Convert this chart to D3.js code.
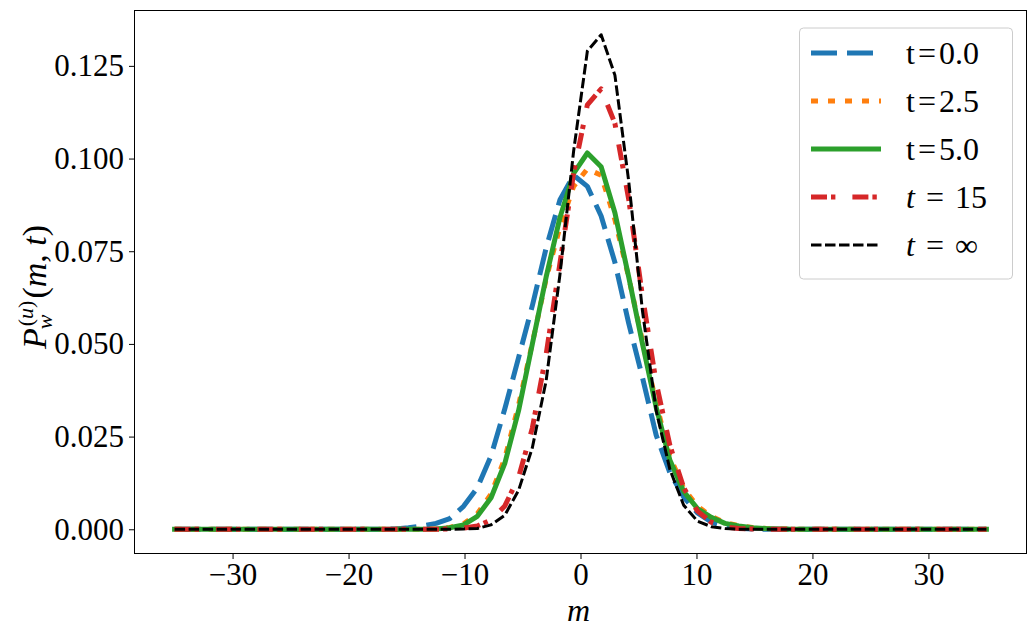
<!DOCTYPE html>
<html>
<head>
<meta charset="utf-8">
<script src="https://cdn.jsdelivr.net/npm/d3@7"></script>
<style>
  body { margin: 0; background: #fff; }
  text { font-family: 'Liberation Serif', 'DejaVu Serif', serif; }
</style>
</head>
<body>
<svg id="chart" width="1036" height="632"></svg>
<script>
// ---------------- data ----------------
const mValues = [
  -35.000, -33.814, -32.627, -31.441, -30.254, -29.068, -27.881, -26.695, -25.508, -24.322,
  -23.136, -21.949, -20.763, -19.576, -18.390, -17.203, -16.017, -14.831, -13.644, -12.458,
  -11.271, -10.085, -8.898, -7.712, -6.525, -5.339, -4.153, -2.966, -1.780, -0.593,
  0.593, 1.780, 2.966, 4.153, 5.339, 6.525, 7.712, 8.898, 10.085, 11.271,
  12.458, 13.644, 14.831, 16.017, 17.203, 18.390, 19.576, 20.763, 21.949, 23.136,
  24.322, 25.508, 26.695, 27.881, 29.068, 30.254, 31.441, 32.627, 33.814, 35.000
];

const p_t0 = [
  0, 0, 0, 0, 0, 0, 0, 0, 0, 0,
  0, 0, 0, 0, 0, 0, 0.0001, 0.0004, 0.0009, 0.0016,
  0.0029, 0.0062, 0.0112, 0.0198, 0.0325, 0.0463, 0.0603, 0.0758, 0.0888, 0.0955,
  0.0925, 0.0845, 0.0720, 0.0556, 0.0410, 0.0254, 0.0152, 0.0087, 0.0044, 0.0020,
  0.0008, 0.0003, 0.0001, 0, 0, 0, 0, 0, 0, 0,
  0, 0, 0, 0, 0, 0, 0, 0, 0, 0
];

const p_t25 = [
  0, 0, 0, 0, 0, 0, 0, 0, 0, 0,
  0, 0, 0, 0, 0, 0, 0, 0, 0, 0.0001,
  0.0005, 0.0015, 0.0042, 0.0095, 0.0192, 0.0335, 0.0502, 0.0675, 0.0815, 0.0925,
  0.0972, 0.0955, 0.0835, 0.0680, 0.0508, 0.0340, 0.0196, 0.0110, 0.0062, 0.0035,
  0.0018, 0.0010, 0.0005, 0.0002, 0.0001, 0, 0, 0, 0, 0,
  0, 0, 0, 0, 0, 0, 0, 0, 0, 0
];

const p_t5 = [
  0, 0, 0, 0, 0, 0, 0, 0, 0, 0,
  0, 0, 0, 0, 0, 0, 0, 0, 0, 0.0001,
  0.0004, 0.0012, 0.0035, 0.0085, 0.0178, 0.0320, 0.0500, 0.0680, 0.0840, 0.0960,
  0.1015, 0.0978, 0.0854, 0.0681, 0.0501, 0.0329, 0.0186, 0.0102, 0.0056, 0.0032,
  0.0016, 0.0009, 0.0004, 0.0002, 0.0001, 0, 0, 0, 0, 0,
  0, 0, 0, 0, 0, 0, 0, 0, 0, 0
];

const p_t15 = [
  0, 0, 0, 0, 0, 0, 0, 0, 0, 0,
  0, 0, 0, 0, 0, 0, 0, 0, 0, 0,
  0.0001, 0.0003, 0.0009, 0.0025, 0.0063, 0.0140, 0.0273, 0.0471, 0.0716, 0.0961,
  0.1145, 0.1188, 0.1095, 0.0891, 0.0630, 0.0395, 0.0226, 0.0112, 0.0049, 0.0019,
  0.0006, 0.0002, 0.0001, 0, 0, 0, 0, 0, 0, 0,
  0, 0, 0, 0, 0, 0, 0, 0, 0, 0
];

const p_tinf = [
  0, 0, 0, 0, 0, 0, 0, 0, 0, 0,
  0, 0, 0, 0, 0, 0, 0, 0, 0, 0,
  0, 0.0001, 0.0002, 0.0012, 0.0038, 0.0105, 0.0220, 0.0400, 0.0685, 0.1020,
  0.1290, 0.1334, 0.1225, 0.0940, 0.0590, 0.0320, 0.0161, 0.0065, 0.0022, 0.0007,
  0.0002, 0, 0, 0, 0, 0, 0, 0, 0, 0,
  0, 0, 0, 0, 0, 0, 0, 0, 0, 0
];

const xTicks = [-30, -20, -10, 0, 10, 20, 30];
const yTicks = [0, 0.025, 0.050, 0.075, 0.100, 0.125];

// legend label pieces: [text, italic, dx before]
const legendLabels = [
  [["t", false, 0], ["=", false, 3], ["0.0", false, 3]],
  [["t", false, 0], ["=", false, 3], ["2.5", false, 3]],
  [["t", false, 0], ["=", false, 3], ["5.0", false, 3]],
  [["t", true, 0], ["=", false, 11], ["15", false, 11]],
  [["t", true, 0], ["=", false, 11], ["\u221E", false, 11]]
];

// ---------------- styles ----------------
const seriesList = [
  { values: p_t0,   color: "#1f77b4", width: 5, dash: "26 10" },
  { values: p_t25,  color: "#ff7f0e", width: 5, dash: "7 10" },
  { values: p_t5,   color: "#2ca02c", width: 5, dash: null },
  { values: p_t15,  color: "#d62728", width: 5, dash: "16 4 4.4 17" },
  { values: p_tinf, color: "#000000", width: 3, dash: "10.5 3.5" }
];

const W = 1036, H = 632;
const plot = { left: 134, right: 1027, top: 10, bottom: 554 };
const FS = 31;

const svg = d3.select("#chart");
svg.append("rect").attr("width", W).attr("height", H).attr("fill", "#fff");

// scales with matplotlib-like 5% margins
const xMin = d3.min(mValues), xMax = d3.max(mValues);
const xPad = (xMax - xMin) * 0.05;
const allY = seriesList.flatMap(s => s.values);
const yMin = d3.min(allY), yMax = d3.max(allY);
const yPad = (yMax - yMin) * 0.05;

const x = d3.scaleLinear().domain([xMin - xPad, xMax + xPad]).range([plot.left, plot.right]);
const y = d3.scaleLinear().domain([yMin - yPad, yMax + yPad]).range([plot.bottom, plot.top]);

// clip
svg.append("defs").append("clipPath").attr("id", "clip")
  .append("rect").attr("x", plot.left).attr("y", plot.top)
  .attr("width", plot.right - plot.left).attr("height", plot.bottom - plot.top);

// lines
const line = d3.line().x((d, i) => x(mValues[i])).y(d => y(d));
const gLines = svg.append("g").attr("clip-path", "url(#clip)");
seriesList.forEach(s => {
  gLines.append("path")
    .datum(s.values)
    .attr("d", line)
    .attr("fill", "none")
    .attr("stroke", s.color)
    .attr("stroke-width", s.width)
    .attr("stroke-dasharray", s.dash)
    .attr("stroke-linejoin", "round")
    .attr("stroke-linecap", s.dash ? "butt" : "square");
});

// axes
const fmtX = d => d < 0 ? "\u2212" + Math.abs(d) : String(d);
const xAxis = svg.append("g")
  .attr("transform", `translate(0,${plot.bottom})`)
  .call(d3.axisBottom(x).tickValues(xTicks).tickSize(5).tickPadding(4).tickFormat(fmtX));
xAxis.select(".domain").remove();
xAxis.selectAll("text").attr("font-size", FS).attr("fill", "#000")
  .style("font-family", "'Liberation Serif', 'DejaVu Serif', serif");
xAxis.selectAll("line").attr("stroke", "#000").attr("stroke-width", 1);

const yAxis = svg.append("g")
  .attr("transform", `translate(${plot.left},0)`)
  .call(d3.axisLeft(y).tickValues(yTicks).tickSize(5).tickPadding(5).tickFormat(d3.format(".3f")));
yAxis.select(".domain").remove();
yAxis.selectAll("text").attr("font-size", FS).attr("fill", "#000")
  .style("font-family", "'Liberation Serif', 'DejaVu Serif', serif");
yAxis.selectAll("line").attr("stroke", "#000").attr("stroke-width", 1);

// frame
svg.append("rect")
  .attr("x", plot.left + 0.5).attr("y", plot.top + 0.5)
  .attr("width", plot.right - plot.left - 1).attr("height", plot.bottom - plot.top - 1)
  .attr("fill", "none").attr("stroke", "#000").attr("stroke-width", 1);

// x label
svg.append("text")
  .attr("x", (plot.left + plot.right) / 2 - 2)
  .attr("y", 621)
  .attr("text-anchor", "middle")
  .attr("font-size", FS + 1)
  .attr("font-style", "italic")
  .text("m");

// y label: P_w^{(u)}(m,t)
const yl = svg.append("g").attr("transform", "translate(46,287) rotate(-90)");
const SFS = 22;
const tP = yl.append("text").attr("font-size", FS + 3).attr("font-style", "italic").text("P");
const wP = tP.node().getComputedTextLength();
const tSub = yl.append("text").attr("font-size", SFS).attr("font-style", "italic").text("w");
const wSub = tSub.node().getComputedTextLength();
const tSup = yl.append("text").attr("font-size", SFS);
tSup.append("tspan").text("(");
tSup.append("tspan").attr("font-style", "italic").text("u");
tSup.append("tspan").text(")");
const wSup = tSup.node().getComputedTextLength();
const tArg = yl.append("text").attr("font-size", FS + 3);
tArg.append("tspan").text("(");
tArg.append("tspan").attr("font-style", "italic").text("m");
tArg.append("tspan").text(", ");
tArg.append("tspan").attr("font-style", "italic").text("t");
tArg.append("tspan").text(")");
const wArg = tArg.node().getComputedTextLength();
const scriptW = Math.max(wSub, wSup + 1);
const total = wP + 1 + scriptW + 2 + wArg;
let cx = -total / 2;
tP.attr("x", cx).attr("y", 0);
cx += wP + 1;
tSub.attr("x", cx - 2).attr("y", 6);
tSup.attr("x", cx + 1).attr("y", -13);
cx += scriptW + 2;
tArg.attr("x", cx).attr("y", 0);

// legend
const lg = { x: 799, y: 27.5, w: 213, h: 251, row0: 53, dy: 48, lx0: 811, lx1: 881, tx: 906 };
const legend = svg.append("g");
legend.append("rect")
  .attr("x", lg.x + 0.5).attr("y", lg.y + 0.5).attr("width", lg.w).attr("height", lg.h)
  .attr("rx", 4).attr("ry", 4)
  .attr("fill", "#fff").attr("fill-opacity", 0.8)
  .attr("stroke", "#cccccc").attr("stroke-width", 1);
seriesList.forEach((s, i) => {
  const yy = lg.row0 + i * lg.dy;
  legend.append("line")
    .attr("x1", lg.lx0).attr("x2", lg.lx1).attr("y1", yy).attr("y2", yy)
    .attr("stroke", s.color).attr("stroke-width", s.width)
    .attr("stroke-dasharray", s.dash)
    .attr("stroke-linecap", "butt");
  const t = legend.append("text")
    .attr("x", lg.tx).attr("y", yy + 11)
    .attr("font-size", FS + 1);
  legendLabels[i].forEach(([str, it, dx]) => {
    const sp = t.append("tspan").attr("dx", dx).text(str);
    if (it) sp.attr("font-style", "italic");
  });
});
</script>
</body>
</html>
